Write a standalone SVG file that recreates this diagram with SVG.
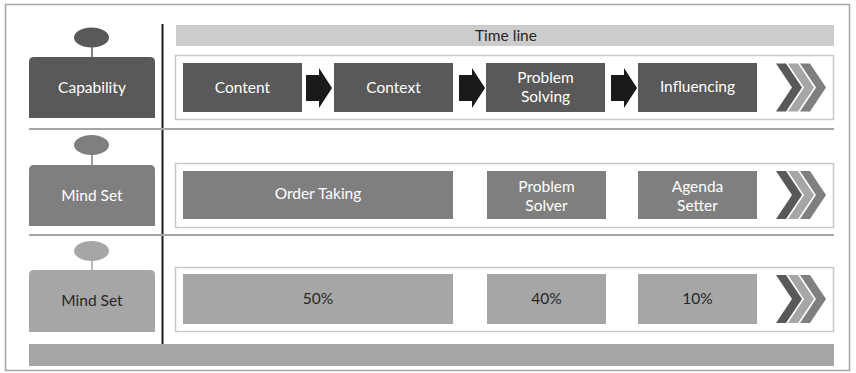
<svg xmlns="http://www.w3.org/2000/svg" width="856" height="373" viewBox="0 0 856 373">
  <defs>
    <style>
      text { font-family: Lato, "Open Sans", "Liberation Sans", sans-serif; font-size: 15.5px; text-anchor: middle; }
      .lt { fill: #ffffff; }
      .dk { fill: #262626; }
      .frame { fill: #ffffff; stroke: #c8c8c8; stroke-width: 1.5; }
      .sep { stroke: #a6a6a6; stroke-width: 2; }
      .c1 { fill: #595959; }
      .c2 { fill: #7f7f7f; }
      .c3 { fill: #a6a6a6; }
      .arrow { fill: #1a1a1a; }
    </style>
    <!-- single chevron, 26 wide, 48 tall, origin at top-left -->
    <path id="chev" d="M0,0 H10 L26,24 L10,48 H0 L16,24 Z"/>
    <g id="chevrons">
      <use href="#chev" x="0" class="c1"/>
      <use href="#chev" x="12" class="c3"/>
      <use href="#chev" x="24" class="c2"/>
    </g>
  </defs>

  <!-- outer border -->
  <rect x="5.5" y="4.5" width="844" height="366" fill="#ffffff" stroke="#a6a6a6" stroke-width="1.5"/>

  <!-- timeline header -->
  <g id="timeline">
    <rect x="176" y="25" width="658" height="21" fill="#cccccc"/>
    <text x="506" y="41" class="dk">Time line</text>
  </g>

  <!-- dividers -->
  <g id="dividers">
    <line x1="162.5" y1="24" x2="162.5" y2="344" stroke="#1a1a1a" stroke-width="2"/>
    <line x1="29" y1="129" x2="834" y2="129" class="sep"/>
    <line x1="29" y1="235" x2="834" y2="235" class="sep"/>
  </g>

  <!-- row 1: capability -->
  <g id="capability">
    <line x1="92" y1="46" x2="92" y2="58" stroke="#595959" stroke-width="1.5"/>
    <ellipse cx="91.5" cy="37.5" rx="17.5" ry="10" class="c1"/>
    <path d="M29,118 V62 Q29,57 34,57 H150 Q155,57 155,62 V118 Z" class="c1"/>
    <text x="92" y="93" class="lt">Capability</text>
  </g>
  <g id="row1">
    <rect x="175.5" y="55.5" width="658" height="64" class="frame"/>
    <g id="content">
      <rect x="183" y="63" width="119" height="49" class="c1"/>
      <text x="242.5" y="93" class="lt">Content</text>
    </g>
    <g id="context">
      <rect x="334" y="63" width="119" height="49" class="c1"/>
      <text x="393.5" y="93" class="lt">Context</text>
    </g>
    <g id="problem-solving">
      <rect x="486" y="63" width="119" height="49" class="c1"/>
      <text x="545.5" y="83" class="lt">Problem</text>
      <text x="545.5" y="102" class="lt">Solving</text>
    </g>
    <g id="influencing">
      <rect x="638" y="63" width="119" height="49" class="c1"/>
      <text x="697.5" y="92" class="lt">Influencing</text>
    </g>
    <use href="#chevrons" x="776" y="63.5"/>
  </g>

  <!-- block arrows between the capability steps -->
  <g id="connectors" class="arrow">
    <path d="M306,75 H319 V68 L332,88 L319,108 V101 H306 Z"/>
    <path d="M459,75 H472 V68 L485,88 L472,108 V101 H459 Z"/>
    <path d="M611,75 H624 V68 L637,88 L624,108 V101 H611 Z"/>
  </g>

  <!-- row 2: mind set -->
  <g id="mindset-1">
    <line x1="92" y1="154" x2="92" y2="166" stroke="#7f7f7f" stroke-width="1.5"/>
    <ellipse cx="91.5" cy="145" rx="17.5" ry="10" class="c2"/>
    <path d="M29,226 V170 Q29,165 34,165 H150 Q155,165 155,170 V226 Z" class="c2"/>
    <text x="92" y="201" class="lt">Mind Set</text>
  </g>
  <g id="row2">
    <rect x="175.5" y="163.5" width="658" height="64" class="frame"/>
    <g id="order-taking">
      <rect x="183" y="171" width="270" height="48" class="c2"/>
      <text x="318" y="199" class="lt">Order Taking</text>
    </g>
    <g id="problem-solver">
      <rect x="487" y="171" width="119" height="48" class="c2"/>
      <text x="546.5" y="192" class="lt">Problem</text>
      <text x="546.5" y="211" class="lt">Solver</text>
    </g>
    <g id="agenda-setter">
      <rect x="638" y="171" width="119" height="48" class="c2"/>
      <text x="697.5" y="192" class="lt">Agenda</text>
      <text x="697.5" y="211" class="lt">Setter</text>
    </g>
    <use href="#chevrons" x="776" y="171"/>
  </g>

  <!-- row 3: mind set shares -->
  <g id="mindset-2">
    <line x1="92" y1="260" x2="92" y2="271" stroke="#a6a6a6" stroke-width="1.5"/>
    <ellipse cx="91.5" cy="251" rx="17.5" ry="10" class="c3"/>
    <path d="M29,332 V275 Q29,270 34,270 H150 Q155,270 155,275 V332 Z" class="c3"/>
    <text x="92" y="306" class="dk">Mind Set</text>
  </g>
  <g id="row3">
    <rect x="175.5" y="267.5" width="658" height="64" class="frame"/>
    <g id="share-50">
      <rect x="183" y="274" width="270" height="50" class="c3"/>
      <text x="318" y="304" class="dk">50%</text>
    </g>
    <g id="share-40">
      <rect x="487" y="274" width="119" height="50" class="c3"/>
      <text x="546.5" y="304" class="dk">40%</text>
    </g>
    <g id="share-10">
      <rect x="638" y="274" width="119" height="50" class="c3"/>
      <text x="697.5" y="304" class="dk">10%</text>
    </g>
    <use href="#chevrons" x="776" y="275"/>
  </g>

  <!-- footer band -->
  <rect id="footer" x="29" y="344" width="805" height="22" class="c3"/>
</svg>
